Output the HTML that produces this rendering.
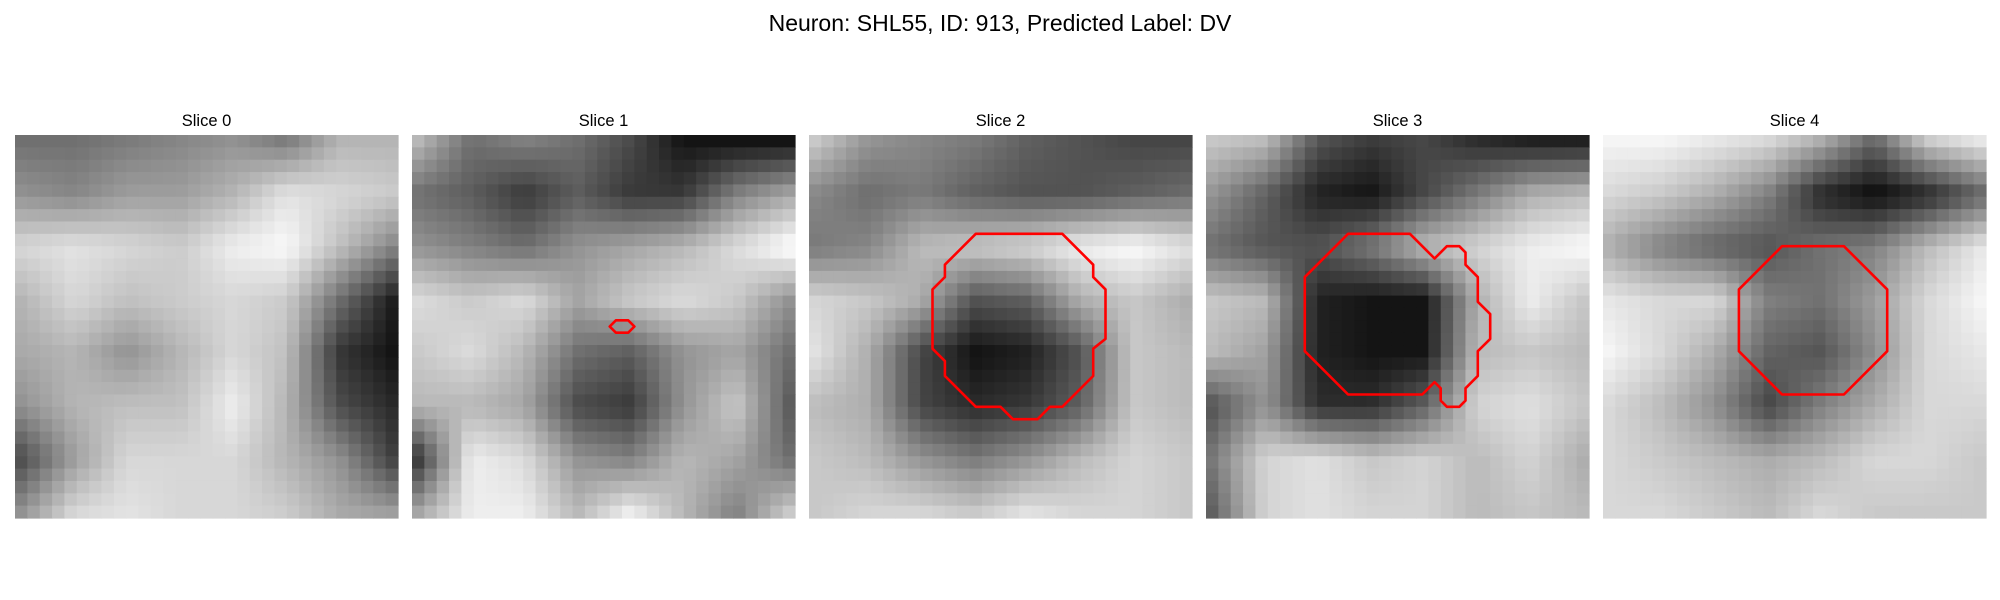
<!DOCTYPE html>
<html><head><meta charset="utf-8"><style>
html,body{margin:0;padding:0;background:#fff;}
svg{display:block;font-family:"Liberation Sans","DejaVu Sans",sans-serif;}
</style></head><body>
<svg id="fig" width="2000" height="600" viewBox="0 0 2000 600">
<text x="1000" y="31" text-anchor="middle" font-size="23" fill="#000">Neuron: SHL55, ID: 913, Predicted Label: DV</text>
</svg>
<script>
const sliceTitles = ["Slice 0","Slice 1","Slice 2","Slice 3","Slice 4"];
const grid0 = [[110,110,120,130,140,120,170,170],[140,130,150,150,170,210,200,190],[200,210,200,190,220,230,180,130],[170,200,180,190,200,190,110,40],[160,170,140,170,200,180,60,30],[140,170,180,180,220,170,80,50],[80,150,200,200,200,170,140,70],[140,200,210,200,200,190,160,150]];
const grid1 = [[150,110,120,110,90,60,60,60],[110,100,80,100,80,80,120,140],[130,120,110,130,140,150,170,190],[170,160,170,140,160,170,160,130],[160,170,150,110,100,130,140,110],[150,150,140,90,80,130,160,100],[80,180,170,130,120,150,140,110],[140,180,180,150,180,150,120,160]];
const grid2 = [[170,130,120,110,90,80,70,70],[120,100,110,90,80,80,90,100],[110,120,160,170,180,200,210,190],[180,170,150,80,90,150,170,150],[190,150,70,30,40,80,170,160],[160,150,70,50,60,90,170,160],[170,160,130,110,130,160,180,170],[170,180,180,170,190,180,180,170]];
const grid3 = [[180,170,90,70,80,60,50,50],[140,100,50,40,80,120,160,170],[110,90,90,120,170,190,210,220],[180,170,50,40,40,160,210,180],[170,150,50,40,40,170,180,170],[90,140,60,60,100,190,200,180],[120,190,200,180,190,170,190,160],[100,190,200,190,190,170,180,170]];
const grid4 = [[190,190,180,170,140,90,160,180],[170,160,140,110,50,30,50,90],[140,110,90,80,100,110,150,180],[180,170,170,110,100,130,170,190],[190,170,140,90,80,120,170,180],[170,150,120,70,110,140,170,170],[170,160,150,140,150,170,170,160],[170,170,160,150,170,160,160,160]];
const contour0 = [];
const contour1 = [[16,15.5],[16.5,15],[17.5,15],[18,15.5],[17.5,16],[16.5,16]];
const contour2 = [[13.5,8],[20.5,8],[23,10.5],[23,11.5],[24,12.5],[24,16.5],[23,17.3],[23,19.5],[20.5,22],[19.5,22],[18.5,23],[16.5,23],[15.5,22],[13.5,22],[11,19.5],[11,18.3],[10,17.3],[10,12.5],[11,11.5],[11,10.5]];
const contour3 = [[11.5,8],[16.5,8],[18.5,10],[19.5,9],[20.5,9],[21,9.5],[21,10.5],[22,11.5],[22,13.5],[23,14.5],[23,16.5],[22,17.5],[22,19.5],[21,20.5],[21,21.5],[20.5,22],[19.5,22],[19,21.5],[19,20.5],[18.5,20],[17.5,21],[11.5,21],[8,17.5],[8,11.5]];
const contour4 = [[14.5,9],[19.5,9],[23,12.5],[23,17.5],[19.5,21],[14.5,21],[11,17.5],[11,12.5]];

const grids=[grid0,grid1,grid2,grid3,grid4];
const contours=[contour0,contour1,contour2,contour3,contour4];
const NS="http://www.w3.org/2000/svg";
const svg=document.getElementById('fig');
const N=31, PX0=15, STEP=397, PY=135, SIZE=383, cell=SIZE/N;
function sample(g,u,v){
  const n=g.length; let x=u*(n-1), y=v*(n-1);
  let x0=Math.floor(x), y0=Math.floor(y); let x1=Math.min(x0+1,n-1), y1=Math.min(y0+1,n-1);
  const fx=x-x0, fy=y-y0;
  return (g[y0][x0]*(1-fx)+g[y0][x1]*fx)*(1-fy)+(g[y1][x0]*(1-fx)+g[y1][x1]*fx)*fy;
}
for(let p=0;p<5;p++){
  const ox=PX0+p*STEP;
  const t=document.createElementNS(NS,'text');
  t.setAttribute('x',ox+SIZE/2);t.setAttribute('y',126);t.setAttribute('text-anchor','middle');t.setAttribute('font-size','16.5');
  t.textContent=sliceTitles[p];
  
  
  svg.appendChild(t);
  const gEl=document.createElementNS(NS,'g');
  
  
  svg.appendChild(gEl);
  const vals=[];
  for(let r=0;r<N;r++)for(let c=0;c<N;c++) vals.push(sample(grids[p],c/(N-1),r/(N-1)));
  const mn=Math.min(...vals), mx=Math.max(...vals);
  for(let r=0;r<N;r++)for(let c=0;c<N;c++){
    let v=(vals[r*N+c]-mn)/(mx-mn);
    v=Math.round(20+v*225);
    const rc=document.createElementNS(NS,'rect');
    rc.setAttribute('x',(ox+c*cell).toFixed(2));rc.setAttribute('y',(PY+r*cell).toFixed(2));
    rc.setAttribute('width',(cell+0.6).toFixed(2));rc.setAttribute('height',(cell+0.6).toFixed(2));
    rc.setAttribute('fill',`rgb(${v},${v},${v})`);
    gEl.appendChild(rc);
  }
  const ct=contours[p];
  if(ct.length){
    const pl=document.createElementNS(NS,'polygon');
    pl.setAttribute('points',ct.map(q=>(ox+q[0]*cell).toFixed(1)+','+(PY+q[1]*cell).toFixed(1)).join(' '));
    pl.setAttribute('fill','none');pl.setAttribute('stroke','#ff0000');pl.setAttribute('stroke-width','2.6');pl.setAttribute('stroke-linejoin','round');
    
    
    svg.appendChild(pl);
  }
}
</script>
</body></html>
